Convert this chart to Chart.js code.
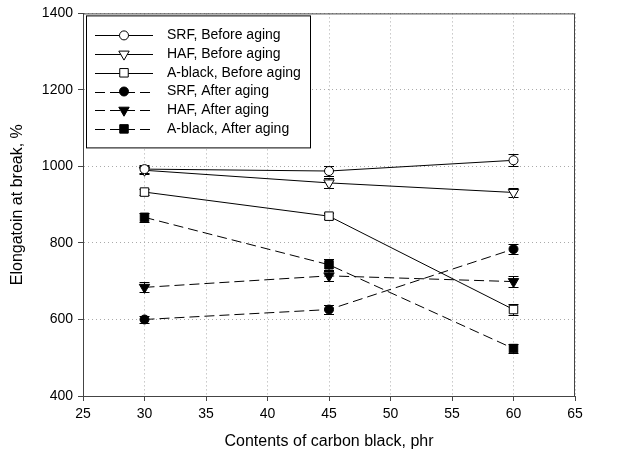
<!DOCTYPE html>
<html>
<head>
<meta charset="utf-8">
<script src="https://cdn.jsdelivr.net/npm/chart.js@4/dist/chart.umd.min.js"></script>
<style>
  html, body { margin: 0; padding: 0; background: #fff; }
  #wrap { width: 622px; height: 459px; }
</style>
</head>
<body>
<div id="wrap"><canvas id="elongChart" width="622" height="459"></canvas></div>
<script>
// data
const contents = [30, 45, 60];
const srfBefore = [993, 988, 1016];
const srfBeforeErr = [10, 14, 16];
const hafBefore = [990, 957, 932];
const hafBeforeErr = [10, 14, 12];
const aBlackBefore = [933, 870, 626];
const aBlackBeforeErr = [8, 8, 14];
const srfAfter = [600, 626, 784];
const srfAfterErr = [10, 12, 13];
const hafAfter = [684, 714, 699];
const hafAfterErr = [13, 13, 14];
const aBlackAfter = [867, 743, 524];
const aBlackAfterErr = [12, 14, 12];
const seriesNames = ['SRF, Before aging', 'HAF, Before aging', 'A-black, Before aging',
                     'SRF, After aging', 'HAF, After aging', 'A-black, After aging'];

const FONT = "'Liberation Sans', Arial, sans-serif";
const dash = [10, 5];

function pts(ys) {
    return contents.map((x, i) => ({ x: x, y: ys[i] }));
}

function makeSet(i, ys, errs, style, filled, dashed) {
    return {
        label: seriesNames[i],
        data: pts(ys),
        errors: errs,
        borderColor: '#000',
        borderWidth: 1,
        borderDash: dashed ? dash : [],
        pointStyle: style,
        pointRotation: style === 'triangle' ? 180 : 0,
        pointRadius: style === 'rect' ? 6 : (style === 'triangle' ? 6 : 4.5),
        pointBackgroundColor: filled ? '#000' : '#fff',
        pointBorderColor: '#000',
        pointBorderWidth: 1,
        tension: 0,
        fill: false
    };
}

// error bars, drawn under the markers
const errorBars = {
    id: 'errorBars',
    beforeDatasetsDraw(chart) {
        const ctx = chart.ctx;
        const ys = chart.scales.y;
        ctx.save();
        ctx.strokeStyle = '#000';
        ctx.lineWidth = 1;
        chart.data.datasets.forEach((ds, di) => {
            const meta = chart.getDatasetMeta(di);
            meta.data.forEach((el, j) => {
                const v = ds.data[j].y, e = ds.errors[j];
                const top = Math.round(ys.getPixelForValue(v + e)) + 0.5;
                const bot = Math.round(ys.getPixelForValue(v - e)) + 0.5;
                ctx.beginPath();
                ctx.moveTo(el.x, top); ctx.lineTo(el.x, bot);
                ctx.moveTo(el.x - 5, top); ctx.lineTo(el.x + 5, top);
                ctx.moveTo(el.x - 5, bot); ctx.lineTo(el.x + 5, bot);
                ctx.stroke();
            });
        });
        ctx.restore();
    }
};

// frame + legend box inside the plot
const frameLegend = {
    id: 'frameLegend',
    afterDraw(chart) {
        const ctx = chart.ctx;
        const a = chart.chartArea;
        ctx.save();
        ctx.strokeStyle = '#444';
        ctx.lineWidth = 1;
        ctx.strokeRect(a.left + 0.5, a.top + 0.5, a.right - a.left - 1, a.bottom - a.top);

        const bx = a.left + 3, by = a.top + 2, bw = 224, bh = 132;
        ctx.fillStyle = '#fff';
        ctx.fillRect(bx, by, bw, bh);
        ctx.strokeStyle = '#000';
        ctx.strokeRect(bx + 0.5, by + 0.5, bw, bh);

        chart.data.datasets.forEach((ds, i) => {
            const y = by + 20 + i * 18.7;
            const x0 = bx + 9, x1 = bx + 67, xm = bx + 38;
            ctx.strokeStyle = '#000';
            ctx.lineWidth = 1;
            ctx.setLineDash(ds.borderDash);
            ctx.beginPath();
            ctx.moveTo(x0, Math.round(y) + 0.5);
            ctx.lineTo(x1, Math.round(y) + 0.5);
            ctx.stroke();
            ctx.setLineDash([]);
            ctx.fillStyle = ds.pointBackgroundColor;
            ctx.strokeStyle = '#000';
            Chart.helpers.drawPoint(ctx, {
                pointStyle: ds.pointStyle,
                rotation: ds.pointRotation,
                radius: ds.pointRadius,
                borderWidth: 1
            }, xm, y);
            ctx.fillStyle = '#000';
            ctx.font = '14px ' + FONT;
            ctx.textBaseline = 'middle';
            ctx.textAlign = 'left';
            ctx.fillText(ds.label, bx + 81, y);
        });
        ctx.restore();
    }
};

const ctx = document.getElementById('elongChart').getContext('2d');
new Chart(ctx, {
    type: 'line',
    data: {
        datasets: [
            makeSet(0, srfBefore, srfBeforeErr, 'circle', false, false),
            makeSet(1, hafBefore, hafBeforeErr, 'triangle', false, false),
            makeSet(2, aBlackBefore, aBlackBeforeErr, 'rect', false, false),
            makeSet(3, srfAfter, srfAfterErr, 'circle', true, true),
            makeSet(4, hafAfter, hafAfterErr, 'triangle', true, true),
            makeSet(5, aBlackAfter, aBlackAfterErr, 'rect', true, true)
        ]
    },
    options: {
        responsive: false,
        animation: false,
        layout: { padding: { top: 13, right: 47, left: 0, bottom: 0 } },
        plugins: {
            legend: { display: false },
            tooltip: { enabled: false }
        },
        scales: {
            x: {
                type: 'linear',
                min: 25, max: 65,
                afterFit(scale) { scale.height = 63; },
                ticks: { stepSize: 5, color: '#000', font: { family: FONT, size: 14 }, padding: 5,
                         callback: v => String(v) },
                grid: { color: '#aaa', tickColor: '#444', tickLength: 5, tickBorderDash: [] },
                border: { color: '#444', dash: [1, 3] },
                title: { display: true, text: 'Contents of carbon black, phr', color: '#000',
                         font: { family: FONT, size: 16 }, padding: { top: 8, bottom: 8 } }
            },
            y: {
                min: 400, max: 1400,
                afterFit(scale) { scale.width = 83; },
                ticks: { stepSize: 200, color: '#000', font: { family: FONT, size: 14 }, padding: 5,
                         callback: v => String(v) },
                grid: { color: '#aaa', tickColor: '#444', tickLength: 5, tickBorderDash: [] },
                border: { color: '#444', dash: [1, 3] },
                title: { display: true, text: 'Elongatoin at break, %', color: '#000',
                         font: { family: FONT, size: 16 }, padding: { top: 8, bottom: 0 } }
            }
        }
    },
    plugins: [errorBars, frameLegend]
});
</script>
</body>
</html>
